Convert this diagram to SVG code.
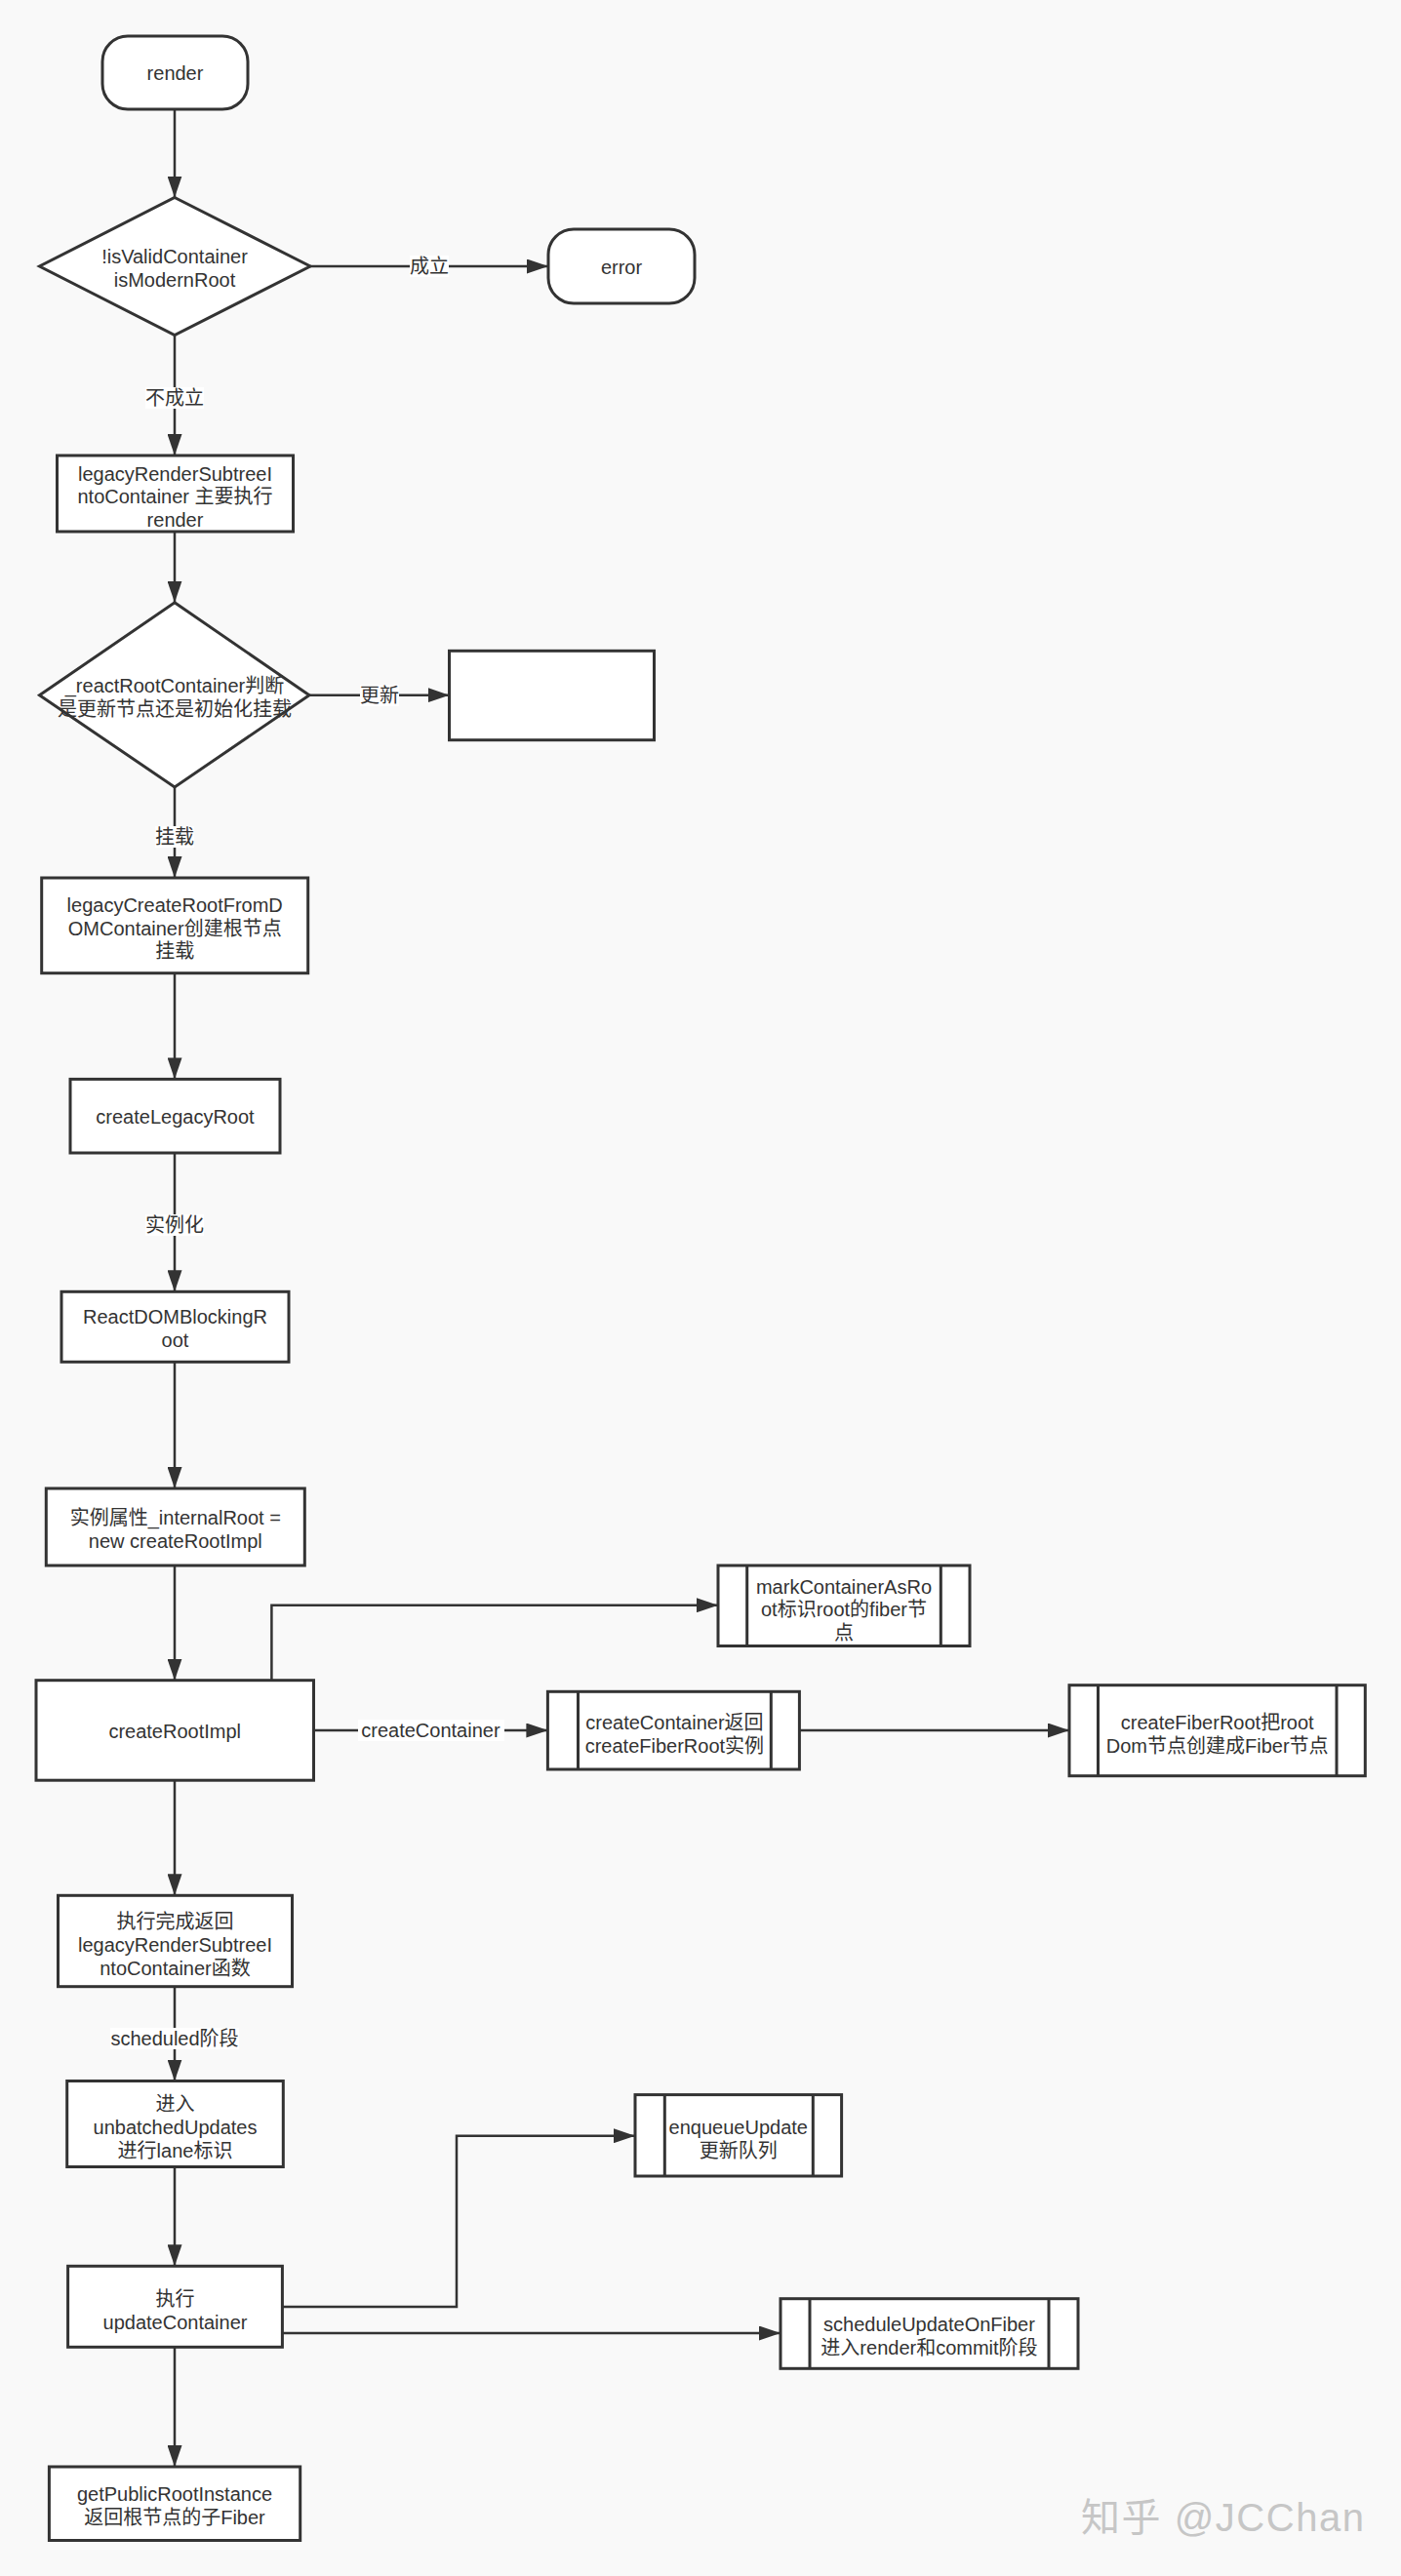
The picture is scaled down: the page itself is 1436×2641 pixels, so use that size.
<svg xmlns="http://www.w3.org/2000/svg" width="1436" height="2641" viewBox="0 0 1436 2641">
<defs>
<style>
.n{fill:#fff;stroke:#333;stroke-width:3}
.in{stroke:#333;stroke-width:3;fill:none}
.t{font-family:"Liberation Sans","Noto Sans CJK SC",sans-serif;font-size:20px;fill:#333;text-anchor:middle;dominant-baseline:central}
.e{fill:none;stroke:#333;stroke-width:2.5}
.lb{fill:#fff}
.wm{font-family:"Liberation Sans","Noto Sans CJK SC",sans-serif;font-size:40px;fill:#c6c6c6;dominant-baseline:central}
</style>
<marker id="ah" markerUnits="userSpaceOnUse" markerWidth="22" markerHeight="15" refX="22" refY="7.5" orient="auto">
<path d="M0,0 L22,7.5 L0,15 z" fill="#333"/>
</marker>
</defs>
<rect x="0" y="0" width="1436" height="2641" fill="#f9f9f9"/>

<g id="connectors">
<path class="e" d="M179,112 V202.5" marker-end="url(#ah)"/>
<path class="e" d="M318,273 H562" marker-end="url(#ah)"/>
<path class="e" d="M179,343.5 V467" marker-end="url(#ah)"/>
<path class="e" d="M179,545 V617.7" marker-end="url(#ah)"/>
<path class="e" d="M317,712.7 H460.5" marker-end="url(#ah)"/>
<path class="e" d="M179,807 V900" marker-end="url(#ah)"/>
<path class="e" d="M179,997.7 V1106.4" marker-end="url(#ah)"/>
<path class="e" d="M179,1182 V1324.3" marker-end="url(#ah)"/>
<path class="e" d="M179,1396.4 V1526" marker-end="url(#ah)"/>
<path class="e" d="M179,1605 V1722.7" marker-end="url(#ah)"/>
<path class="e" d="M278.4,1722.7 V1645.7 H736" marker-end="url(#ah)"/>
<path class="e" d="M321.5,1774 H561.4" marker-end="url(#ah)"/>
<path class="e" d="M819.4,1774 H1096" marker-end="url(#ah)"/>
<path class="e" d="M179,1825.2 V1943.3" marker-end="url(#ah)"/>
<path class="e" d="M179,2036.7 V2133.5" marker-end="url(#ah)"/>
<path class="e" d="M179,2221.5 V2323.3" marker-end="url(#ah)"/>
<path class="e" d="M289.4,2365 H468 V2189.7 H651" marker-end="url(#ah)"/>
<path class="e" d="M289.4,2392 H800" marker-end="url(#ah)"/>
<path class="e" d="M179,2406.4 V2529" marker-end="url(#ah)"/>
<g id="edge-labels">
<rect class="lb" x="420" y="262" width="40" height="22"/>
<text class="t" x="440" y="273">成立</text>
<rect class="lb" x="149" y="397" width="60" height="22"/>
<text class="t" x="179" y="408">不成立</text>
<rect class="lb" x="369" y="702" width="40" height="22"/>
<text class="t" x="389" y="712.7">更新</text>
<rect class="lb" x="159" y="847" width="40" height="22"/>
<text class="t" x="179" y="857.7">挂载</text>
<rect class="lb" x="149" y="1245" width="60" height="22"/>
<text class="t" x="179" y="1256.4">实例化</text>
<rect class="lb" x="367" y="1763" width="150" height="22"/>
<text class="t" x="441.4" y="1774">createContainer</text>
<rect class="lb" x="113" y="2079" width="132" height="22"/>
<text class="t" x="179" y="2090">scheduled阶段</text>
</g>
</g>

<g id="render"><rect class="n" x="105" y="37" width="149" height="75" rx="26"/><text class="t" x="179.5" y="74.5">render</text></g>
<g id="isValidContainer"><polygon class="n" points="179,202.5 318,273 179,343.5 40.5,273"/><text class="t" x="179" y="263">!isValidContainer</text><text class="t" x="179" y="287">isModernRoot</text></g>
<g id="error"><rect class="n" x="562" y="235" width="150" height="76" rx="26"/><text class="t" x="637" y="274">error</text></g>
<g id="legacyRenderSubtree"><rect class="n" x="58.5" y="467" width="242" height="78"/><text class="t" x="179.5" y="485.5">legacyRenderSubtreeI</text><text class="t" x="179.5" y="509">ntoContainer 主要执行</text><text class="t" x="179.5" y="532.5">render</text></g>
<g id="reactRootContainer"><polygon class="n" points="179,617.7 317,712.7 179,807 40.5,712.7"/><text class="t" x="179" y="703">_reactRootContainer判断</text><text class="t" x="179" y="726.5">是更新节点还是初始化挂载</text></g>
<g id="update-empty"><rect class="n" x="460.5" y="667.3" width="210" height="91.4"/></g>
<g id="legacyCreateRoot"><rect class="n" x="42.7" y="900" width="273" height="97.7"/><text class="t" x="179.2" y="928">legacyCreateRootFromD</text><text class="t" x="179.2" y="951.5">OMContainer创建根节点</text><text class="t" x="179.2" y="975">挂载</text></g>
<g id="createLegacyRoot"><rect class="n" x="72" y="1106.4" width="215" height="75.6"/><text class="t" x="179.5" y="1145">createLegacyRoot</text></g>
<g id="ReactDOMBlockingRoot"><rect class="n" x="63" y="1324.3" width="233" height="72"/><text class="t" x="179.5" y="1350">ReactDOMBlockingR</text><text class="t" x="179.5" y="1373.5">oot</text></g>
<g id="internalRoot"><rect class="n" x="47.3" y="1526" width="265" height="79"/><text class="t" x="179.8" y="1555.5">实例属性_internalRoot =</text><text class="t" x="179.8" y="1579.5">new createRootImpl</text></g>
<g id="createRootImpl"><rect class="n" x="37" y="1722.7" width="284.5" height="102.5"/><text class="t" x="179.2" y="1775">createRootImpl</text></g>
<g id="markContainerAsRoot"><rect class="n" x="736" y="1605" width="258" height="82.5"/><path class="in" d="M765.7,1605 V1687.5 M964.3,1605 V1687.5"/><text class="t" x="865" y="1626.5">markContainerAsRo</text><text class="t" x="865" y="1650">ot标识root的fiber节</text><text class="t" x="865" y="1674">点</text></g>
<g id="createContainer"><rect class="n" x="561.4" y="1734.3" width="258" height="79.7"/><path class="in" d="M592.5,1734.3 V1814 M790.3,1734.3 V1814"/><text class="t" x="691.4" y="1765.5">createContainer返回</text><text class="t" x="691.4" y="1789.5">createFiberRoot实例</text></g>
<g id="createFiberRoot"><rect class="n" x="1096" y="1727.7" width="303.3" height="93"/><path class="in" d="M1125.5,1727.7 V1820.7 M1370,1727.7 V1820.7"/><text class="t" x="1247.7" y="1765.5">createFiberRoot把root</text><text class="t" x="1247.7" y="1789.5">Dom节点创建成Fiber节点</text></g>
<g id="returnLegacy"><rect class="n" x="59.5" y="1943.3" width="240" height="93.4"/><text class="t" x="179.5" y="1970">执行完成返回</text><text class="t" x="179.5" y="1994">legacyRenderSubtreeI</text><text class="t" x="179.5" y="2018">ntoContainer函数</text></g>
<g id="unbatchedUpdates"><rect class="n" x="68.7" y="2133.5" width="221.6" height="88"/><text class="t" x="179.5" y="2157">进入</text><text class="t" x="179.5" y="2181">unbatchedUpdates</text><text class="t" x="179.5" y="2205">进行lane标识</text></g>
<g id="updateContainer"><rect class="n" x="69.6" y="2323.3" width="219.8" height="83"/><text class="t" x="179.5" y="2357">执行</text><text class="t" x="179.5" y="2381">updateContainer</text></g>
<g id="enqueueUpdate"><rect class="n" x="651" y="2147.6" width="211.6" height="83.4"/><path class="in" d="M681.3,2147.6 V2231 M833.3,2147.6 V2231"/><text class="t" x="756.8" y="2181">enqueueUpdate</text><text class="t" x="756.8" y="2205">更新队列</text></g>
<g id="scheduleUpdateOnFiber"><rect class="n" x="800" y="2356.7" width="305" height="71.6"/><path class="in" d="M830,2356.7 V2428.3 M1075,2356.7 V2428.3"/><text class="t" x="952.5" y="2383">scheduleUpdateOnFiber</text><text class="t" x="952.5" y="2407">进入render和commit阶段</text></g>
<g id="getPublicRootInstance"><rect class="n" x="50.4" y="2529" width="257.3" height="75.5"/><text class="t" x="179" y="2557">getPublicRootInstance</text><text class="t" x="179" y="2581">返回根节点的子Fiber</text></g>

<text class="wm" x="1108" y="2581" textLength="290">知乎 @JCChan</text>
</svg>
